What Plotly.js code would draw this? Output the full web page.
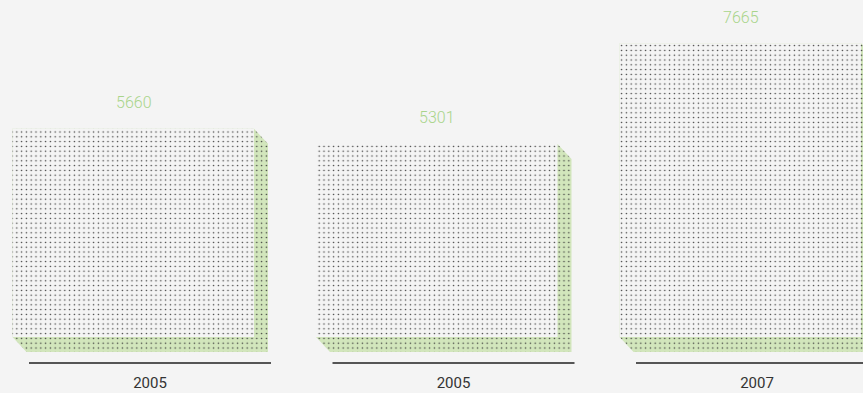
<!DOCTYPE html>
<html>
<head>
<meta charset="utf-8">
<script src="https://cdn.plot.ly/plotly-3.0.1.min.js"></script>
<style>
  html, body { margin: 0; padding: 0; background: #f4f4f4; }
  #chart { width: 863px; height: 393px; }
</style>
</head>
<body>
<div id="chart"></div>
<script>
// ---- data ----
const years = ['2005', '2005', '2007'];
const values = [5660, 5301, 7665];

// ---- layout geometry (pixels) ----
const W = 863, H = 393;
const plotH = 370;                 // plot area height (bottom margin 23)
const pxPerCat = 303.5;            // pixels per category step
const firstCenter = 150;           // pixel x of first category
const yMax = 8677;                 // value at top of plot area
const u = yMax / plotH;            // value units per pixel
const catPos = years.map((_, i) => i);

const frontOffset = (12.5 - firstCenter) / pxPerCat;
const frontWidth = 241.5 / pxPerCat;
const baseVal = 33 * u;            // front face bottom, 33px above plot bottom
const dX = 14 / pxPerCat;          // extrusion offset right
const dY = 15 * u;                 // extrusion offset down

const bg = '#f4f4f4';
const green = '#d2e6bc';
const dotColor = '#3a3a3a';

const traces = [];

// extrusion (green shadow) polygons
catPos.forEach((i) => {
  const x0 = i + frontOffset, x1 = x0 + frontWidth;
  const T = values[i], B = baseVal;
  traces.push({
    type: 'scatter',
    mode: 'none',
    x: [x0, x1, x1 + dX, x1 + dX, x0 + dX, x0, x0],
    y: [T, T, T - dY, B - dY, B - dY, B, T],
    fill: 'toself',
    fillcolor: green,
    fillpattern: { shape: '.', bgcolor: green, fgcolor: dotColor, size: 4.8, solidity: 0.08 },
    hoverinfo: 'skip',
    showlegend: false
  });
});

// front faces (on an overlaying axis pair so they draw above the shadows)
traces.push({
  type: 'bar',
  xaxis: 'x2', yaxis: 'y2',
  x: catPos,
  y: values.map(v => v - baseVal),
  base: values.map(() => baseVal),
  offset: frontOffset,
  width: frontWidth,
  marker: {
    color: bg,
    line: { width: 0 },
    pattern: { shape: '.', bgcolor: bg, fgcolor: dotColor, size: 4.8, solidity: 0.08, fillmode: 'replace' }
  },
  hoverinfo: 'skip',
  showlegend: false
});

// value labels
const annotations = catPos.map((i) => ({
  x: i, y: values[i], xref: 'x', yref: 'y',
  text: String(values[i]),
  showarrow: false,
  xanchor: 'center', yanchor: 'middle',
  xshift: -16.5, yshift: 26,
  font: { family: 'Roboto, sans-serif', size: 16, color: '#a9d48b', weight: 300 }
}));

// baseline segments under each bar
const lineHalf = 121 / pxPerCat;
const shapes = catPos.map((i) => ({
  type: 'line', xref: 'x', yref: 'paper',
  x0: i - lineHalf, x1: i + lineHalf,
  y0: 7 / plotH, y1: 7 / plotH,
  line: { color: '#555555', width: 2 }
}));

const xRange = [-firstCenter / pxPerCat, (W - firstCenter) / pxPerCat];

const layout = {
  width: W, height: H,
  margin: { l: 0, r: 0, t: 0, b: H - plotH, pad: 0 },
  paper_bgcolor: bg,
  plot_bgcolor: 'rgba(0,0,0,0)',
  showlegend: false,
  xaxis: {
    range: xRange,
    tickmode: 'array',
    tickvals: catPos,
    ticktext: years,
    showgrid: false, zeroline: false, showline: false,
    ticks: '',
    ticklabelstandoff: 2,
    tickfont: { family: 'Roboto, sans-serif', size: 15, color: '#333333' },
    fixedrange: true
  },
  yaxis: {
    range: [0, yMax],
    visible: false,
    showgrid: false, zeroline: false,
    fixedrange: true
  },
  xaxis2: {
    overlaying: 'x', range: xRange, visible: false,
    showgrid: false, zeroline: false, fixedrange: true
  },
  yaxis2: {
    overlaying: 'y', range: [0, yMax], visible: false,
    showgrid: false, zeroline: false, fixedrange: true
  },
  annotations: annotations,
  shapes: shapes
};

Plotly.newPlot('chart', traces, layout, { displayModeBar: false, staticPlot: true });
</script>
</body>
</html>
